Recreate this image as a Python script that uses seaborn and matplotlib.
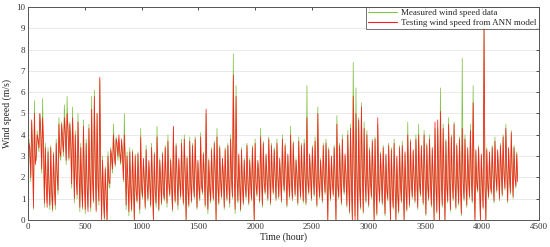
import numpy as np
import pandas as pd
import matplotlib
matplotlib.use("Agg")
import matplotlib.pyplot as plt
import seaborn as sns

# Daily values: low (0 h), peak (8 h), mid level (16 h) for each day
measured_peak = [
    3.8, 4.6, 5.6, 4.2, 5.0, 5.7, 3.6, 3.4, 3.5, 3.2,
    3.8, 4.8, 4.6, 5.4, 5.8, 4.6, 5.3, 4.2, 5.0, 3.6,
    4.7, 3.8, 4.5, 5.8, 6.1, 5.0, 6.6, 3.0, 2.5, 3.2,
    3.4, 4.5, 3.9, 3.8, 3.7, 5.0, 3.2, 3.4, 3.3, 3.1,
    3.2, 4.3, 2.8, 3.5, 2.7, 3.6, 3.2, 4.4, 2.9, 3.2,
    3.5, 4.0, 2.9, 4.3, 3.6, 2.8, 3.8, 4.0, 3.0, 3.9,
    3.6, 3.9, 2.7, 4.1, 3.2, 5.0, 2.9, 3.4, 3.7, 4.3,
    3.5, 2.8, 3.4, 3.6, 4.0, 7.8, 6.3, 3.0, 3.4, 2.9,
    3.6, 2.9, 3.5, 3.8, 2.7, 4.3, 3.7, 3.0, 3.9, 3.6,
    3.4, 3.8, 2.8, 4.0, 3.6, 3.0, 4.4, 3.7, 2.9, 3.9,
    3.6, 3.8, 6.3, 3.0, 3.5, 3.9, 5.3, 2.9, 3.6, 3.8,
    3.4, 2.9, 3.5, 4.9, 3.6, 4.0, 3.0, 4.2, 4.5, 7.4,
    6.2, 4.8, 5.5, 4.6, 4.2, 3.4, 3.8, 3.9, 4.5, 3.2,
    3.5, 3.0, 3.6, 3.4, 3.8, 2.9, 3.5, 3.7, 3.1, 4.6,
    3.8, 3.2, 4.0, 4.5, 3.4, 4.2, 3.6, 4.0, 3.3, 4.3,
    4.3, 6.2, 4.5, 3.8, 4.8, 4.0, 4.6, 3.6, 3.9, 7.6,
    4.0, 3.3, 4.5, 6.3, 3.2, 3.5, 3.0, 9.3, 3.4, 3.1,
    3.5, 3.9, 3.2, 3.6, 4.0, 4.5, 3.3, 4.2, 3.5, 3.2,
]
measured_low = [
    0.4, 1.8, 0.5, 2.8, 3.2, 2.2, 0.6, 0.8, 0.5, 0.4,
    0.5, 1.2, 2.8, 3.0, 2.6, 2.8, 1.5, 0.8, 1.0, 0.4,
    0.5, 0.3, 0.6, 0.4, 0.8, 0.5, 0.7, 0.2, 0.0, 0.0,
    1.5, 2.2, 2.5, 2.8, 2.6, 1.8, 0.5, 0.2, 0.4, 0.0,
    0.8, 0.3, 1.0, 0.5, 0.9, 0.6, 0.0, 0.6, 0.4, 0.7,
    0.9, 0.6, 1.1, 0.4, 0.8, 0.5, 1.0, 0.7, 0.0, 0.6,
    0.8, 1.0, 0.5, 0.9, 1.2, 0.6, 0.3, 0.8, 0.9, 0.0,
    0.7, 1.0, 0.5, 0.9, 0.6, 1.0, 0.3, 0.8, 0.4, 0.7,
    1.0, 0.7, 0.9, 0.0, 1.1, 0.8, 0.6, 1.2, 0.9, 0.7,
    1.2, 0.9, 1.0, 0.8, 1.3, 0.6, 1.0, 0.9, 1.1, 0.7,
    1.0, 0.8, 0.7, 1.2, 0.9, 1.1, 0.6, 1.0, 0.8, 1.2,
    0.0, 0.9, 1.1, 0.0, 1.0, 0.7, 1.2, 0.6, 0.3, 0.0,
    0.2, 0.0, 0.5, 0.3, 0.8, 0.6, 1.0, 0.0, 0.2, 0.8,
    0.7, 0.2, 0.9, 0.0, 0.5, 0.0, 0.3, 0.8, 0.0, 0.4,
    0.6, 1.0, 0.8, 0.5, 1.1, 0.7, 0.2, 0.9, 0.6, 0.0,
    0.3, 0.0, 0.6, 0.0, 0.8, 0.4, 0.9, 0.5, 0.7, 0.2,
    0.9, 0.6, 1.0, 0.8, 0.0, 1.3, 0.0, 0.5, 0.0, 1.0,
    1.2, 0.8, 1.3, 0.9, 1.1, 1.4, 0.8, 1.2, 1.0, 1.5,
]
measured_mid = [
    3.2, 3.0, 2.8, 3.6, 4.0, 3.4, 1.5, 1.8, 1.2, 1.6,
    2.0, 3.0, 3.6, 4.2, 4.0, 3.8, 3.0, 2.2, 2.5, 1.5,
    2.0, 1.4, 2.2, 1.8, 2.5, 1.6, 2.0, 1.0, 1.2, 1.6,
    2.8, 3.2, 3.4, 3.0, 3.2, 2.6, 1.6, 1.4, 1.8, 1.2,
    1.8, 1.4, 2.0, 1.6, 1.9, 1.5, 1.2, 2.0, 1.7, 1.5,
    2.1, 1.6, 1.9, 1.4, 2.2, 1.7, 1.8, 2.0, 1.3, 1.6,
    1.9, 2.0, 1.5, 1.8, 2.3, 1.6, 1.4, 1.9, 2.1, 1.5,
    1.7, 2.2, 1.6, 2.0, 1.8, 2.4, 1.9, 1.6, 1.5, 1.8,
    2.0, 1.7, 1.9, 1.5, 2.2, 1.9, 1.6, 2.1, 2.0, 1.7,
    2.2, 1.9, 2.1, 1.8, 2.3, 1.7, 2.0, 1.9, 2.2, 1.8,
    2.0, 1.8, 1.7, 2.2, 1.9, 2.1, 1.7, 2.0, 1.8, 2.2,
    1.6, 1.9, 2.1, 1.5, 2.0, 1.8, 2.2, 1.7, 1.6, 2.5,
    2.2, 1.5, 2.4, 1.8, 2.0, 1.7, 2.1, 1.4, 1.9, 1.8,
    1.7, 1.3, 1.9, 1.2, 1.6, 1.1, 1.5, 1.8, 1.3, 1.7,
    1.9, 2.1, 1.8, 1.6, 2.2, 1.9, 1.5, 2.0, 1.8, 1.6,
    1.7, 2.0, 1.8, 1.5, 2.1, 1.7, 2.0, 1.8, 1.9, 1.6,
    2.0, 1.8, 2.1, 1.9, 1.6, 1.8, 1.5, 1.9, 1.6, 1.8,
    2.2, 2.0, 2.4, 2.1, 2.3, 2.5, 2.0, 2.4, 2.2, 2.0,
]
ann_peak = [
    3.6, 4.7, 5.0, 4.0, 5.0, 4.8, 3.4, 3.2, 3.4, 3.1,
    3.6, 4.5, 4.5, 4.8, 5.0, 4.5, 4.8, 4.0, 4.6, 3.4,
    4.4, 3.6, 4.3, 5.2, 5.8, 5.0, 6.7, 2.8, 2.4, 3.0,
    3.3, 4.0, 3.8, 4.0, 3.8, 4.0, 3.0, 3.2, 3.2, 3.0,
    3.1, 3.9, 2.9, 3.3, 2.8, 3.4, 3.1, 3.9, 2.8, 3.1,
    3.4, 3.7, 2.8, 4.4, 3.5, 2.9, 3.6, 3.8, 2.9, 3.7,
    3.5, 3.8, 2.8, 3.9, 3.1, 5.2, 2.8, 3.3, 3.6, 3.9,
    3.4, 2.9, 3.3, 3.5, 3.8, 6.8, 5.8, 3.1, 3.3, 2.8,
    3.5, 2.8, 3.4, 3.6, 2.8, 3.9, 3.6, 3.1, 3.8, 3.5,
    3.3, 3.6, 2.9, 3.8, 3.5, 3.1, 4.0, 3.6, 2.8, 3.7,
    3.5, 3.6, 4.8, 3.1, 3.4, 3.7, 5.0, 2.8, 3.5, 3.6,
    3.3, 3.0, 3.4, 4.5, 3.5, 3.8, 3.1, 4.0, 4.3, 5.8,
    5.0, 4.7, 5.3, 4.3, 4.0, 3.3, 3.7, 3.8, 4.8, 3.1,
    3.4, 3.1, 3.5, 3.3, 3.6, 3.0, 3.4, 3.5, 3.2, 4.0,
    3.7, 3.3, 3.8, 4.0, 3.5, 4.0, 3.5, 3.8, 3.4, 4.6,
    4.7, 5.1, 4.3, 3.7, 4.5, 3.9, 4.5, 3.5, 3.8, 4.3,
    3.8, 3.4, 4.2, 5.5, 3.3, 3.4, 3.1, 9.0, 3.3, 3.2,
    3.4, 3.7, 3.3, 3.5, 3.9, 4.3, 3.4, 4.1, 3.4, 3.1,
]
ann_low = [
    0.3, 2.0, 0.6, 3.0, 3.4, 2.4, 0.8, 0.6, 0.7, 0.5,
    0.7, 1.4, 3.0, 3.2, 2.8, 2.9, 1.7, 1.0, 1.2, 0.6,
    0.6, 0.5, 0.4, 0.6, 0.9, 0.4, 0.9, 0.0, 0.1, 0.0,
    1.7, 2.4, 2.6, 3.0, 2.7, 1.9, 0.7, 0.4, 0.5, 0.0,
    0.9, 0.5, 1.1, 0.6, 1.0, 0.7, 0.0, 0.8, 0.5, 0.8,
    1.0, 0.8, 1.2, 0.5, 0.9, 0.7, 1.1, 0.8, 0.0, 0.7,
    0.9, 1.1, 0.6, 1.0, 1.3, 0.7, 0.5, 0.9, 1.0, 0.0,
    0.8, 1.1, 0.6, 1.0, 0.8, 1.1, 0.5, 0.9, 0.5, 0.8,
    1.1, 0.8, 1.0, 0.0, 1.2, 0.9, 0.7, 1.3, 1.0, 0.8,
    1.3, 1.0, 1.1, 0.9, 1.4, 0.7, 1.1, 1.0, 1.2, 0.8,
    1.1, 0.9, 0.8, 1.3, 1.0, 1.2, 0.7, 1.1, 0.9, 1.3,
    0.0, 1.0, 1.2, 0.0, 1.1, 0.8, 1.3, 0.7, 0.4, 0.0,
    0.0, 0.0, 0.6, 0.4, 0.9, 0.7, 1.1, 0.0, 0.3, 0.9,
    0.8, 0.3, 1.0, 0.0, 0.6, 0.0, 0.4, 0.9, 0.0, 0.5,
    0.7, 1.1, 0.9, 0.6, 1.2, 0.8, 0.3, 1.0, 0.7, 0.0,
    0.4, 0.0, 0.7, 0.0, 0.9, 0.5, 1.0, 0.6, 0.8, 0.3,
    1.0, 0.7, 1.1, 0.9, 0.0, 1.4, 0.0, 0.6, 0.0, 1.1,
    1.3, 0.9, 1.4, 1.0, 1.2, 1.5, 0.9, 1.3, 1.1, 1.6,
]
ann_mid = [
    3.4, 3.2, 2.6, 3.8, 4.2, 3.6, 1.7, 1.6, 1.4, 1.5,
    2.2, 3.2, 3.8, 4.0, 4.3, 3.6, 3.2, 2.0, 2.7, 1.7,
    1.8, 1.6, 2.0, 2.0, 2.3, 1.8, 2.2, 1.2, 1.0, 1.8,
    3.0, 3.0, 3.6, 3.2, 3.0, 2.8, 1.8, 1.6, 1.6, 1.4,
    1.6, 1.6, 1.8, 1.8, 1.7, 1.7, 1.4, 1.8, 1.9, 1.3,
    1.9, 1.8, 1.7, 1.6, 2.0, 1.9, 1.6, 2.2, 1.5, 1.8,
    1.7, 2.2, 1.7, 1.6, 2.1, 1.8, 1.6, 1.7, 2.3, 1.7,
    1.9, 2.0, 1.8, 1.8, 2.0, 2.2, 2.1, 1.8, 1.7, 1.6,
    1.8, 1.9, 1.7, 1.7, 2.0, 2.1, 1.8, 1.9, 2.2, 1.9,
    2.0, 2.1, 1.9, 2.0, 2.1, 1.9, 1.8, 2.1, 2.0, 2.0,
    1.8, 2.0, 1.9, 2.0, 2.1, 1.9, 1.9, 1.8, 2.0, 2.0,
    1.8, 1.7, 1.9, 1.7, 1.8, 2.0, 2.0, 1.9, 1.8, 2.3,
    2.0, 1.7, 2.2, 2.0, 1.8, 1.9, 1.9, 1.6, 1.7, 2.0,
    1.9, 1.5, 1.7, 1.4, 1.8, 1.3, 1.7, 1.6, 1.5, 1.9,
    1.7, 1.9, 2.0, 1.8, 2.0, 2.1, 1.7, 1.8, 2.0, 1.8,
    1.9, 1.8, 2.0, 1.7, 1.9, 1.9, 1.8, 2.0, 1.7, 1.8,
    1.8, 2.0, 1.9, 2.1, 1.8, 1.6, 1.7, 1.7, 1.8, 1.6,
    2.0, 2.2, 2.2, 2.3, 2.1, 2.3, 2.2, 2.2, 2.0, 1.8,
]

labels = ["Measured wind speed data", "Testing wind speed from ANN model"]
colors = ["#86c34a", "#ff1e1e"]


def daily_series(lows, peaks, mids):
    vals = np.empty(3 * len(lows))
    vals[0::3] = lows
    vals[1::3] = peaks
    vals[2::3] = mids
    return vals


hours = np.arange(3 * len(measured_peak)) * 8
df = pd.concat([
    pd.DataFrame({"hour": hours, "speed": daily_series(measured_low, measured_peak, measured_mid),
                  "series": labels[0]}),
    pd.DataFrame({"hour": hours, "speed": daily_series(ann_low, ann_peak, ann_mid),
                  "series": labels[1]}),
])

sns.set_style("white")
plt.rcParams["font.family"] = ["Liberation Serif", "DejaVu Serif"]

fig = plt.figure(figsize=(5.5, 2.47), dpi=100)
ax = fig.add_axes([0.051, 0.109, 0.929, 0.863])

sns.lineplot(data=df, x="hour", y="speed", hue="series", hue_order=labels,
             palette=colors, estimator=None, sort=False, linewidth=0.55, ax=ax)

ax.set_xlim(0, 4500)
ax.set_ylim(0, 10)
ax.set_xticks(range(0, 4501, 500))
ax.set_yticks(range(0, 11))
ax.yaxis.grid(True, color="#e6e6e6", linewidth=0.6)
ax.set_axisbelow(True)
ax.tick_params(direction="in", length=2.5, width=0.6, labelsize=6.5,
               top=True, right=True, pad=2, colors="#333333")
for s in ax.spines.values():
    s.set_linewidth(0.7)
    s.set_color("#555555")

ax.set_xlabel("Time (hour)", fontsize=7, labelpad=1)
ax.set_ylabel("Wind speed (m/s)", fontsize=7, labelpad=3)

leg = ax.legend(loc="upper right", fontsize=6.5, frameon=True, fancybox=False,
                borderaxespad=0.05, handlelength=3.2, handletextpad=0.5,
                borderpad=0.2, labelspacing=0.1)
leg.get_frame().set_edgecolor("#333333")
leg.get_frame().set_linewidth(0.6)
for line in leg.get_lines():
    line.set_linewidth(0.8)

fig.savefig("out.png", dpi=100)
